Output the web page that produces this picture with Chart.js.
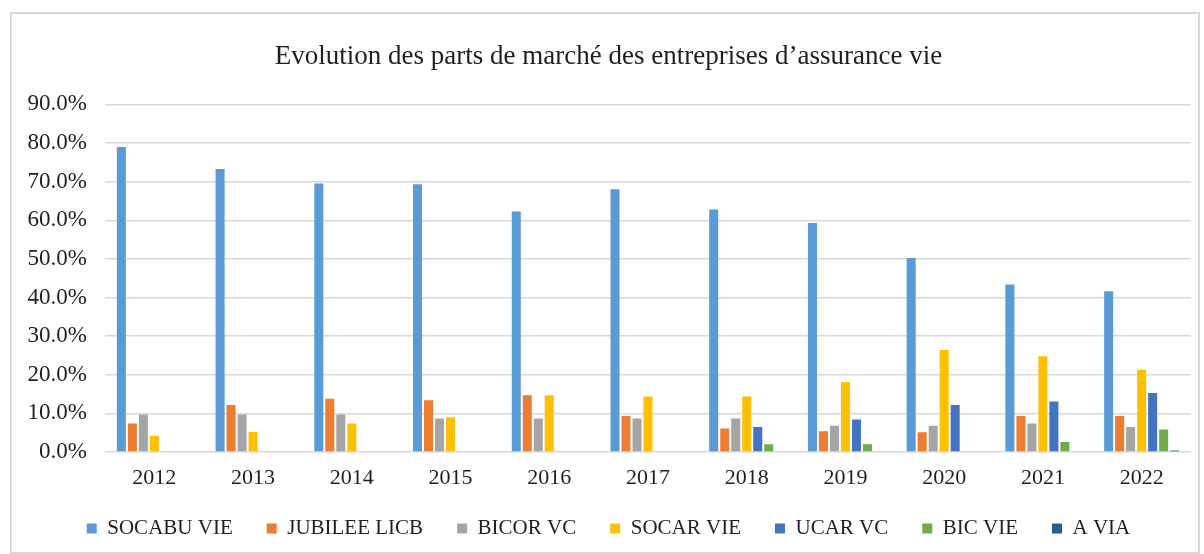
<!DOCTYPE html>
<html>
<head>
<meta charset="utf-8">
<script src="https://cdn.jsdelivr.net/npm/chart.js@4.4.1/dist/chart.umd.min.js"></script>
<style>
	body { margin: 0; background: #fff; }
	#box {
		position: absolute;
		left: 10px;
		top: 12px;
		width: 1186px;
		height: 538px;
		border: 2px solid #d9d9d9;
	}
</style>
</head>
<body>
<div id="box"><canvas id="chart" width="1186" height="538"></canvas></div>
<script>
const years = ['2012', '2013', '2014', '2015', '2016', '2017', '2018', '2019', '2020', '2021', '2022'];

const socabuVie = [79.0, 73.3, 69.5, 69.3, 62.3, 68.0, 62.8, 59.3, 50.2, 43.4, 41.6];
const jubileeLicb = [7.4, 12.2, 13.8, 13.4, 14.7, 9.3, 6.1, 5.4, 5.1, 9.3, 9.3];
const bicorVc = [9.7, 9.7, 9.7, 8.7, 8.7, 8.7, 8.7, 6.8, 6.8, 7.4, 6.5];
const socarVie = [4.2, 5.2, 7.4, 9.0, 14.7, 14.4, 14.4, 18.1, 26.4, 24.8, 21.3];
const ucarVc = [null, null, null, null, null, null, 6.5, 8.4, 12.2, 13.1, 15.3];
const bicVie = [null, null, null, null, null, null, 2.0, 2.0, null, 2.6, 5.8];
const avia = [null, null, null, null, null, null, null, null, null, null, 0.4];

const serif = "'Liberation Serif', 'DejaVu Serif', serif";
const textColor = '#1f1f1f';

function makeSet(label, data, color) {
	return {
		label: label,
		data: data,
		backgroundColor: color,
		borderWidth: 0,
		categoryPercentage: 0.78,
		barPercentage: 0.82
	};
}

new Chart(document.getElementById('chart'), {
	type: 'bar',
	data: {
		labels: years,
		datasets: [
			makeSet('SOCABU VIE', socabuVie, '#5b9bd5'),
			makeSet('JUBILEE LICB', jubileeLicb, '#ed7d31'),
			makeSet('BICOR VC', bicorVc, '#a5a5a5'),
			makeSet('SOCAR VIE', socarVie, '#ffc000'),
			makeSet('UCAR VC', ucarVc, '#4472c4'),
			makeSet('BIC VIE', bicVie, '#70ad47'),
			makeSet('A VIA', avia, '#255e91')
		]
	},
	options: {
		responsive: false,
		animation: false,
		layout: {
			padding: { left: 14, right: 7, top: 10, bottom: 3 }
		},
		scales: {
			x: {
				grid: { display: false, drawTicks: false },
				border: { display: false },
				ticks: {
					color: textColor,
					padding: 13,
					font: { family: serif, size: 22 }
				},
				// keep the legend close under the year labels
				afterFit: s => { s.height = 32; }
			},
			y: {
				min: 0,
				max: 90,
				grid: { color: '#d9d9d9', lineWidth: 1.5, drawTicks: false },
				border: { display: false },
				ticks: {
					stepSize: 10,
					color: textColor,
					padding: 18,
					font: { family: serif, size: 23 },
					callback: v => v.toFixed(1) + '%'
				},
				afterFit: s => { s.width = 79; }
			}
		},
		plugins: {
			title: {
				display: true,
				text: 'Evolution des parts de marché des entreprises d’assurance vie',
				color: textColor,
				font: { family: serif, size: 27, weight: 'normal' },
				padding: { top: 17, bottom: 31 }
			},
			legend: {
				position: 'bottom',
				labels: {
					boxWidth: 10,
					boxHeight: 10,
					padding: 34,
					color: textColor,
					font: { family: serif, size: 21 }
				}
			},
			tooltip: { enabled: false }
		}
	}
});
</script>
</body>
</html>
